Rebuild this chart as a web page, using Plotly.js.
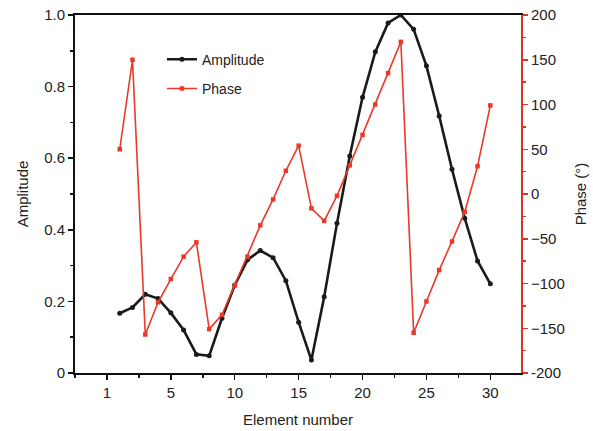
<!DOCTYPE html>
<html><head><meta charset="utf-8">
<script src="https://cdn.plot.ly/plotly-3.0.1.min.js"></script>
<style>body{margin:0;background:#fff}#c{width:593px;height:431px}</style>
</head><body><div id="c"></div>
<script>
const elements = [1,2,3,4,5,6,7,8,9,10,11,12,13,14,15,16,17,18,19,20,21,22,23,24,25,26,27,28,29,30];
const amplitude = [0.167,0.183,0.220,0.208,0.168,0.120,0.052,0.048,0.153,0.245,0.316,0.342,0.322,0.258,0.142,0.036,0.213,0.418,0.606,0.770,0.897,0.978,1.0,0.960,0.858,0.718,0.569,0.432,0.313,0.249];
const phase = [50,150,-157,-121,-95,-70,-54,-151,-135,-102,-70,-35,-6,26,54,-16,-30,-2,32,66,100,135,170,-155,-120,-85,-53,-20,31,99];
const xTickVals = [0,5,10,15,20,25,30];
const xTickText = ["1","5","10","15","20","25","30"];
const ampTickVals = [0,0.2,0.4,0.6,0.8,1.0];
const ampTickText = ["0","0.2","0.4","0.6","0.8","1.0"];
const phaseTickVals = [-200,-150,-100,-50,0,50,100,150,200];
const phaseTickText = ["-200","\u2212150","\u2212100","\u221250","0","50","100","150","200"];

const font = "Liberation Sans, Arial, sans-serif";
const data = [
  {x: elements, y: amplitude, name: "Amplitude", legendgroup: "a", type: "scatter", mode: "lines+markers",
   line: {color: "#1a1a1a", width: 2.6}, marker: {color: "#1a1a1a", size: 5, symbol: "circle"}},
  {x: elements, y: phase, name: "Phase", legendgroup: "p", type: "scatter", mode: "lines+markers", yaxis: "y2",
   line: {color: "#e8392a", width: 1.6}, marker: {color: "#e8392a", size: 4.5, symbol: "square"}}
];
const layout = {
  width: 593, height: 431,
  margin: {l: 75, r: 72, t: 15, b: 58},
  paper_bgcolor: "#fff", plot_bgcolor: "#fff",
  font: {family: font, size: 15, color: "#222"},
  showlegend: true,
  legend: {x: 0.195, y: 0.92, xanchor: "left", yanchor: "top", bgcolor: "rgba(0,0,0,0)",
           font: {size: 14, color: "#222"}, traceorder: "grouped", tracegroupgap: 8},
  xaxis: {range: [-2.5, 32.4], tickmode: "array", tickvals: xTickVals, ticktext: xTickText,
          showgrid: false, zeroline: false, showline: true, linecolor: "#111", linewidth: 2,
          mirror: true, ticks: "outside", ticklen: 5, tickwidth: 1.5, tickcolor: "#111",
          minor: {tickmode: "linear", tick0: 0, dtick: 2.5, ticks: "outside", ticklen: 3, tickcolor: "#111"},
          title: {text: "Element number", font: {size: 15, color: "#222"}, standoff: 14}},
  yaxis: {range: [0, 1.0], tickmode: "array", tickvals: ampTickVals, ticktext: ampTickText,
          showgrid: false, zeroline: false, showline: true, linecolor: "#111", linewidth: 2,
          ticks: "outside", ticklen: 5, tickwidth: 1.5, tickcolor: "#111",
          minor: {tickmode: "linear", tick0: 0, dtick: 0.1, ticks: "outside", ticklen: 3, tickcolor: "#111"},
          title: {text: "Amplitude", font: {size: 15, color: "#222"}, standoff: 12}},
  yaxis2: {range: [-200, 200], overlaying: "y", side: "right", tickmode: "array",
          tickvals: phaseTickVals, ticktext: phaseTickText,
          showgrid: false, zeroline: false, showline: true, linecolor: "#d9362a", linewidth: 2,
          ticks: "outside", ticklen: 5, tickwidth: 1.5, tickcolor: "#d9362a",
          minor: {tickmode: "linear", tick0: 0, dtick: 25, ticks: "outside", ticklen: 3, tickcolor: "#d9362a"},
          title: {text: "Phase (°)", font: {size: 15, color: "#222"}, standoff: 12}}
};
Plotly.newPlot("c", data, layout, {displayModeBar: false, staticPlot: true});
</script></body></html>
